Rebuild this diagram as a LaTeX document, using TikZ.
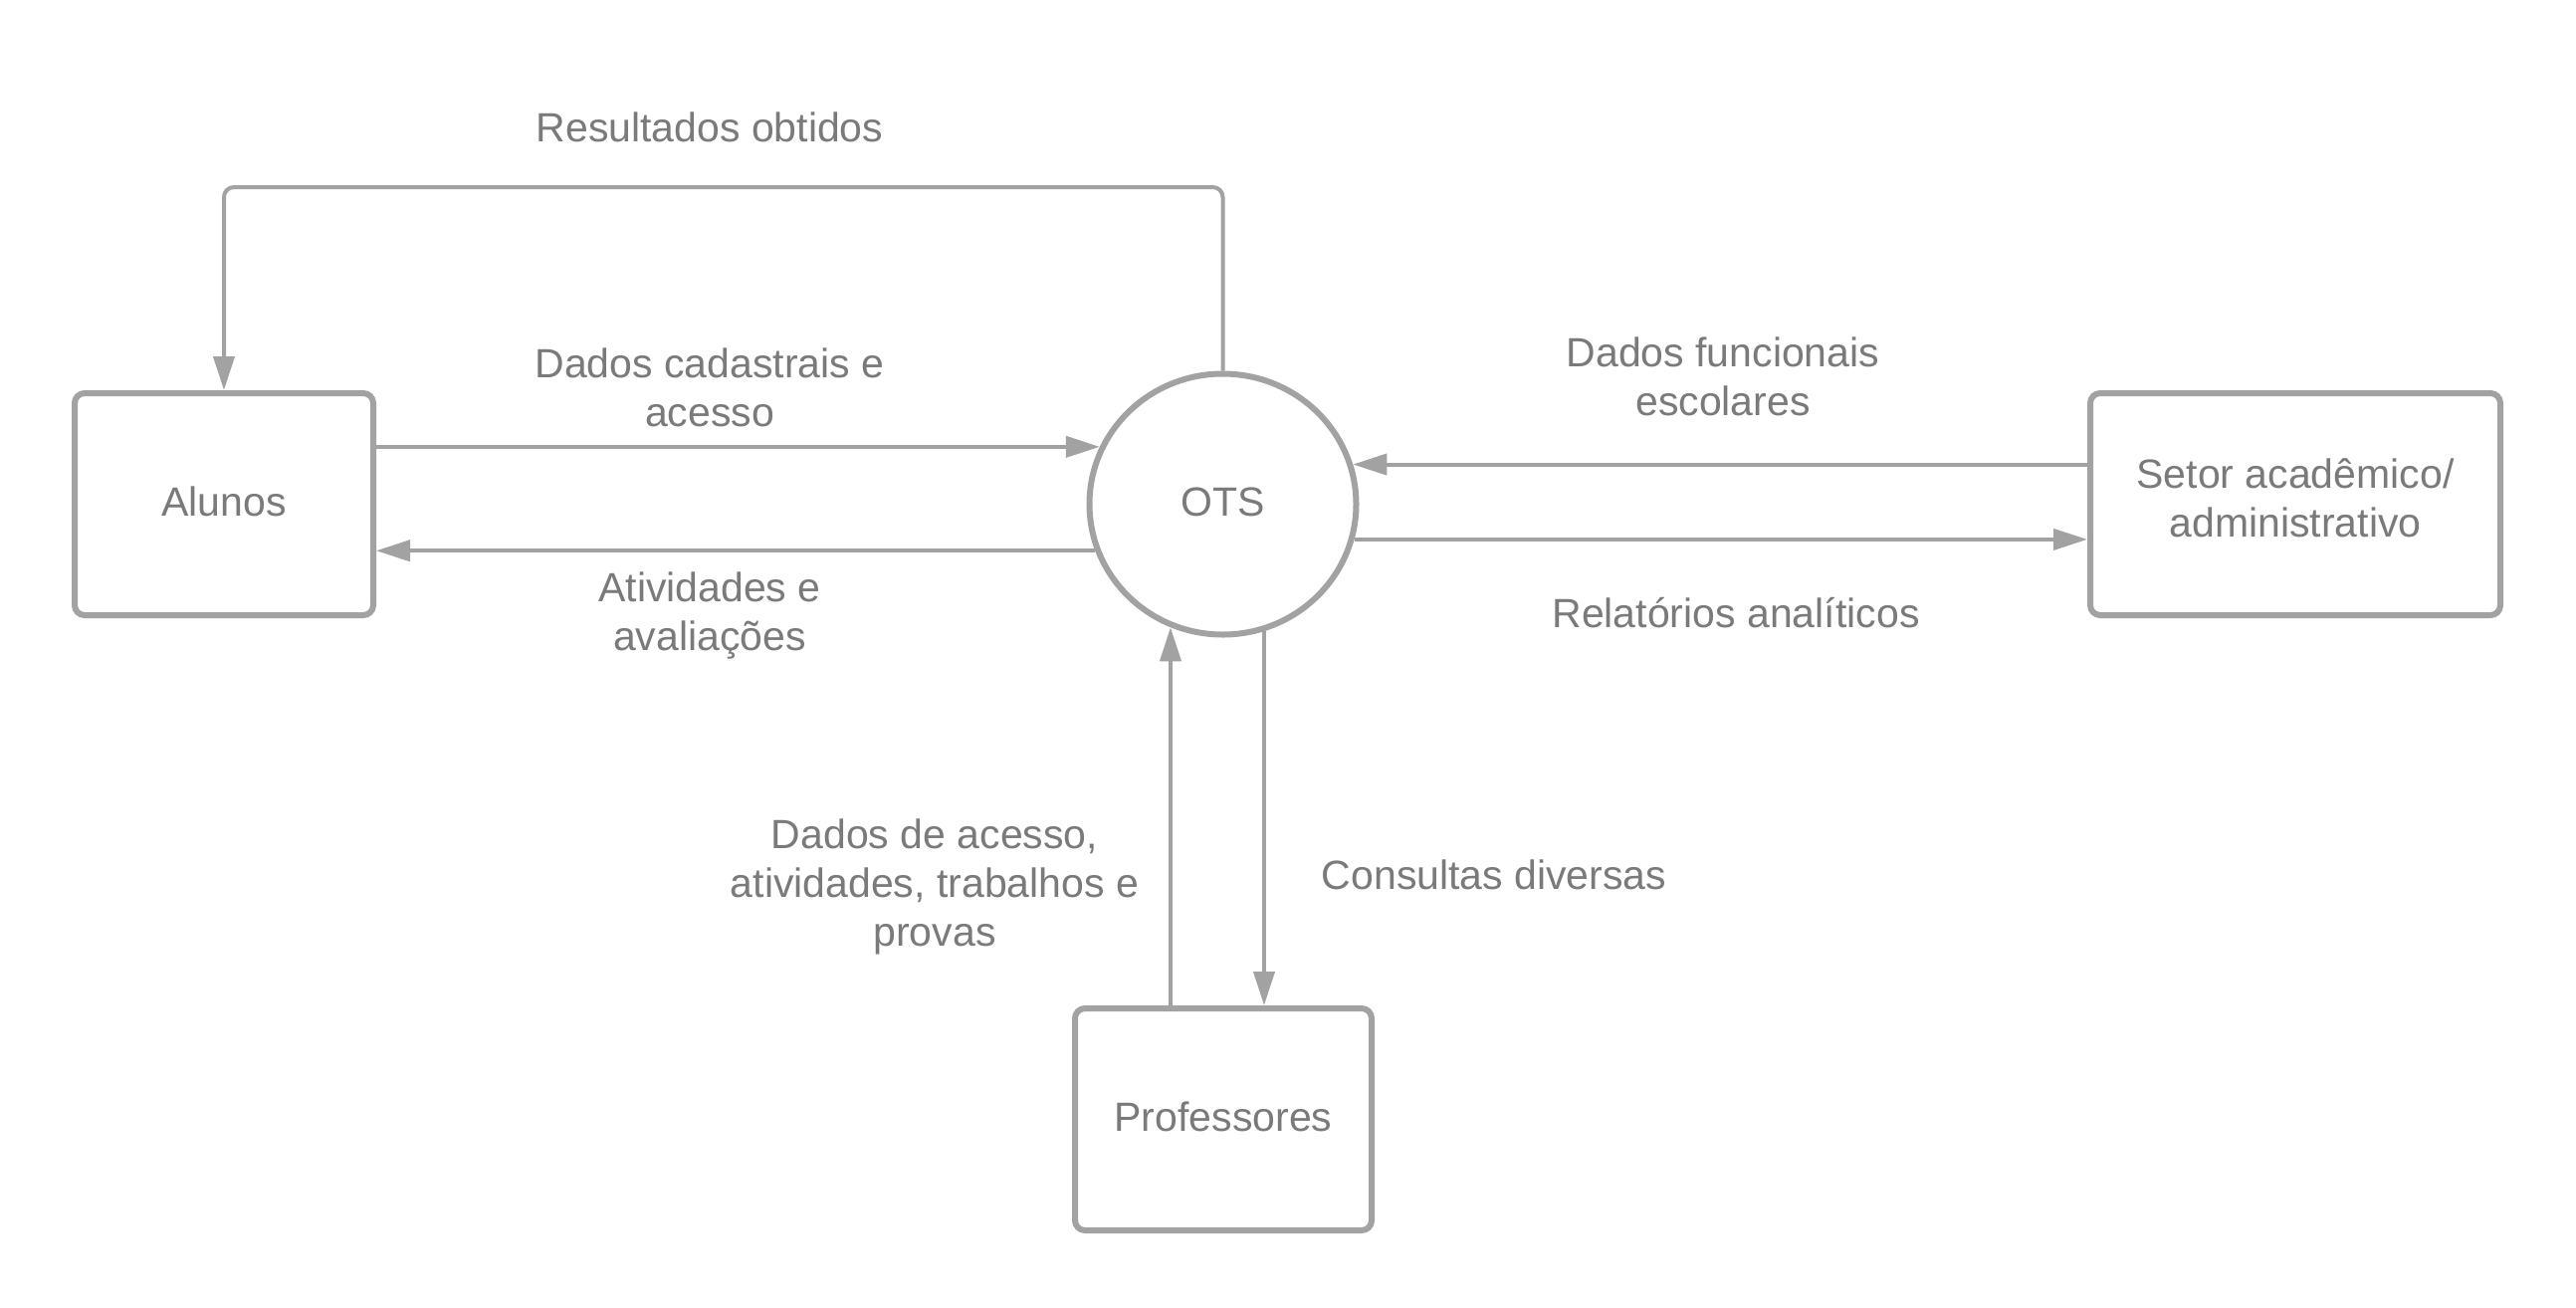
\documentclass[tikz,border=0pt]{standalone}
\usepackage{fontspec}
\setmainfont{Liberation Sans}
\usetikzlibrary{arrows.meta,shapes.geometric}
\definecolor{linegray}{RGB}{162,162,162}
\definecolor{textgray}{RGB}{122,122,122}
\begin{document}
\begin{tikzpicture}[x=0.5pt,y=-0.5pt,
  every node/.style={text=textgray,font=\fontsize{20.5pt}{24.5pt}\selectfont},
  entity/.style={draw=linegray,line width=3pt,rounded corners=5pt,inner sep=0pt,
    minimum width=148.5pt,minimum height=111.5pt,align=center,fill=white,
    text height=15pt,text depth=3pt},
  proc/.style={draw=linegray,line width=3pt,ellipse,inner sep=0pt,
    minimum width=134pt,minimum height=131pt,text height=15pt,text depth=3pt},
  flow/.style={draw=linegray,line width=2pt,-{Triangle[length=17pt,width=10.5pt]}},
  lbl/.style={align=center,inner sep=0pt}]
\useasboundingbox[fill=white] (0,0) rectangle (2588,1313);
\node[entity,minimum width=150pt] (alunos) at (225,506.5) {Alunos};
\node[entity,minimum width=206pt] (setor) at (2306,506.5) {};
\node[lbl] (setortext) at (2306,500) {Setor acadêmico/\\administrativo};
\node[entity,minimum width=149pt] (prof) at (1229,1124.5) {Professores};
\node[proc] (ots) at (1228.5,506.5) {OTS};
% flows
\draw[flow] (alunos.east |- ots.155.54) -- (ots.155.54);
\draw[flow] (ots.200.79) -- (alunos.east |- ots.200.79);
\draw[flow] (setor.west |- ots.17.67) -- (ots.17.67);
\draw[flow] (ots.-15.48) -- (setor.west |- ots.-15.48);
\draw[flow] (prof.north -| ots.247.48) -- (ots.247.48);
\draw[flow] (ots.288.89) -- (prof.north -| ots.288.89);
\coordinate (c1) at (1228.5,188);
\coordinate (c2) at (225,188);
\draw[flow,rounded corners=5pt] (ots.north) -- (c1) -- (c2) -- (alunos.north);
% labels
\node[lbl] (l1) at (713,128) {Resultados obtidos};
\node[lbl] (l2) at (713,389) {Dados cadastrais e\\acesso};
\node[lbl] (l3) at (713,618) {Atividades e\\avaliações};
\node[lbl] (l4) at (1731,378) {Dados funcionais\\escolares};
\node[lbl] (l5) at (1744,616) {Relatórios analíticos};
\node[lbl] (l6) at (939,891) {Dados de acesso,\\atividades, trabalhos e\\provas};
\node[lbl] (l7) at (1501,879) {Consultas diversas};
\end{tikzpicture}
\end{document}
